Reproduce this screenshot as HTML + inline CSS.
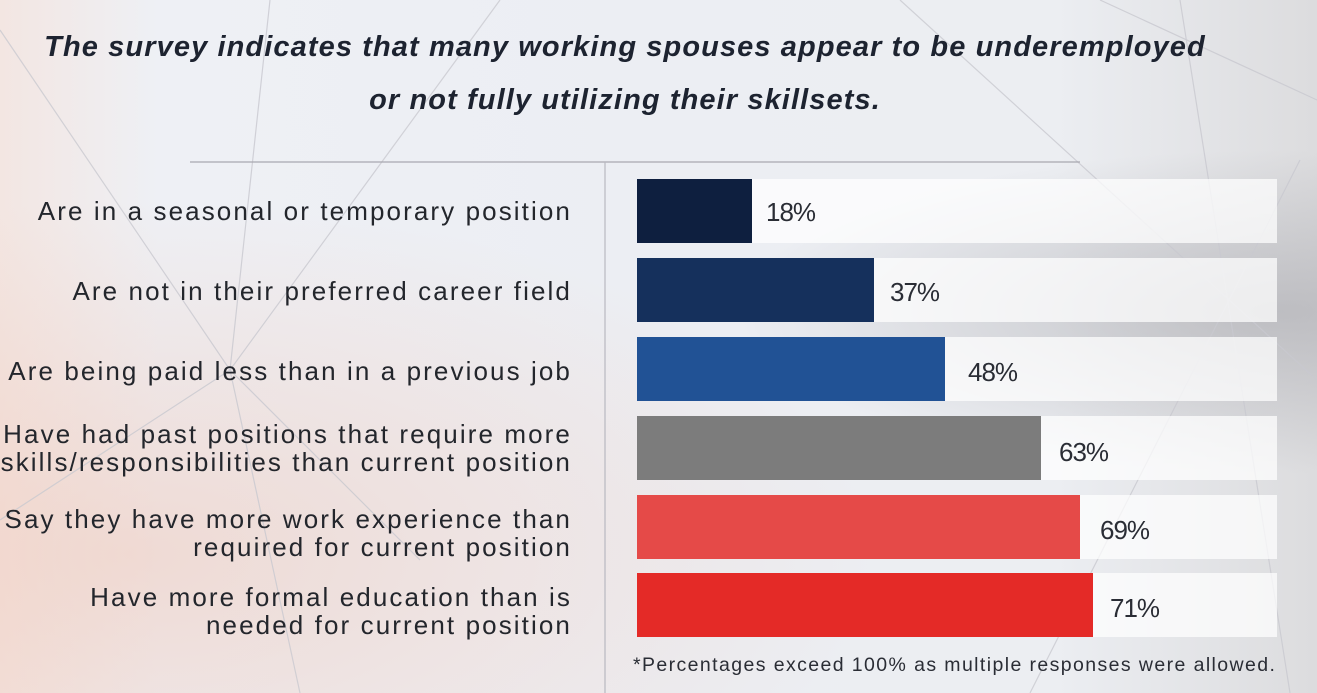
<!DOCTYPE html>
<html><head><meta charset="utf-8"><style>
body{margin:0;width:1317px;height:693px;overflow:hidden;position:relative;font-family:"Liberation Sans",sans-serif;
background:radial-gradient(ellipse at 10% 80%,rgba(240,200,185,.55),transparent 45%),
radial-gradient(ellipse at 97% 45%,rgba(175,175,180,.7),transparent 30%),
linear-gradient(90deg,#f3e6e2 0%,#eef0f5 12%,#eceef3 50%,#eceef2 80%,#dcdcde 100%);}
.t{position:absolute;left:0;width:1250px;text-align:center;font-weight:bold;font-style:italic;font-size:29px;letter-spacing:1.1px;color:#1d2330;white-space:nowrap}
.l{position:absolute;right:745px;text-align:right;font-size:26px;color:#23262c;line-height:28px;letter-spacing:2.1px;white-space:nowrap}
.tr{position:absolute;left:637px;width:640px;height:64px;background:rgba(255,255,255,.72)}
.b{position:absolute;left:637px;height:64px}
.v{position:absolute;font-size:26px;color:#2a2d35;letter-spacing:-1px}
</style></head><body>
<svg width="1317" height="693" style="position:absolute;left:0;top:0">
<g stroke="#c9c9d0" stroke-width="1.2" fill="none" opacity=".8">
<line x1="0" y1="30" x2="230" y2="370"/><line x1="230" y1="370" x2="300" y2="693"/>
<line x1="270" y1="0" x2="230" y2="370"/><line x1="500" y1="0" x2="230" y2="370"/>
<line x1="230" y1="370" x2="0" y2="520"/><line x1="230" y1="370" x2="420" y2="560"/>
<line x1="1180" y1="0" x2="1290" y2="693"/><line x1="1300" y1="160" x2="1030" y2="693"/>
<line x1="1317" y1="100" x2="1100" y2="0"/><line x1="900" y1="0" x2="1317" y2="380"/>
</g>
<line x1="190" y1="162" x2="1080" y2="162" stroke="#a8a8b0" stroke-width="1.2"/>
<line x1="605" y1="162" x2="605" y2="693" stroke="#b8b8c0" stroke-width="1.2"/>
</svg>
<div class="t" style="top:31px">The survey indicates that many working spouses appear to be underemployed</div>
<div class="t" style="top:84px">or not fully utilizing their skillsets.</div>

<div class="l" style="top:197px">Are in a seasonal or temporary position</div>
<div class="l" style="top:277px">Are not in their preferred career field</div>
<div class="l" style="top:357px">Are being paid less than in a previous job</div>
<div class="l" style="top:420px">Have had past positions that require more<br>skills/responsibilities than current position</div>
<div class="l" style="top:505px">Say they have more work experience than<br>required for current position</div>
<div class="l" style="top:583px">Have more formal education than is<br>needed for current position</div>

<div class="tr" style="top:179px"></div><div class="tr" style="top:258px"></div><div class="tr" style="top:337px"></div>
<div class="tr" style="top:416px"></div><div class="tr" style="top:495px"></div><div class="tr" style="top:573px"></div>
<div class="b" style="top:179px;width:115px;background:#0e1f3f"></div>
<div class="b" style="top:258px;width:237px;background:#15305c"></div>
<div class="b" style="top:337px;width:308px;background:#215295"></div>
<div class="b" style="top:416px;width:404px;background:#7c7c7c"></div>
<div class="b" style="top:495px;width:443px;background:#e54a48"></div>
<div class="b" style="top:573px;width:456px;background:#e42a27"></div>
<div class="v" style="left:766px;top:197px">18%</div>
<div class="v" style="left:890px;top:277px">37%</div>
<div class="v" style="left:968px;top:357px">48%</div>
<div class="v" style="left:1059px;top:437px">63%</div>
<div class="v" style="left:1100px;top:515px">69%</div>
<div class="v" style="left:1110px;top:593px">71%</div>
<div style="position:absolute;left:633px;top:654px;font-size:19.5px;color:#2a2d35;letter-spacing:1.4px;white-space:nowrap">*Percentages exceed 100% as multiple responses were allowed.</div>
</body></html>
